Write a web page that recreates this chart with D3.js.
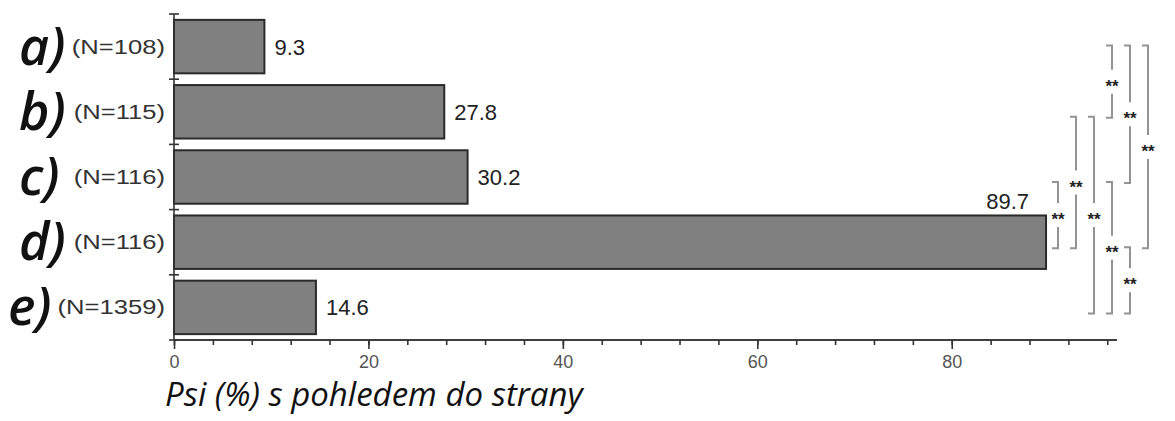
<!DOCTYPE html>
<html>
<head>
<meta charset="utf-8">
<script src="https://cdn.jsdelivr.net/npm/d3@7/dist/d3.min.js"></script>
<style>
  html, body { margin: 0; padding: 0; background: #ffffff; }
  svg { display: block; }
</style>
</head>
<body>
<svg id="chart" width="1175" height="421"></svg>
<script>
// Groups, sample sizes and share of dogs looking to the side (%)
const groupKeys = ["a", "b", "c", "d", "e"];
const groupLabels = ["a)", "b)", "c)", "d)", "e)"];
const sampleSizes = [108, 115, 116, 116, 1359];
const values = [9.3, 27.8, 30.2, 89.7, 14.6];
const majorTicks = [0, 20, 40, 60, 80];
const minorTicks = d3.range(0, 97, 4);
const axisTitle = "Psi (%) s pohledem do strany";

// Pairwise significance tests
const sigPairs = [["a", "b"], ["a", "c"], ["a", "d"], ["b", "d"], ["b", "e"], ["c", "d"], ["c", "e"], ["d", "e"]];
const sigMarks = ["**", "**", "**", "**", "**", "**", "**", "**"];

const svg = d3.select("#chart");
const sans = "'Liberation Sans', Arial, sans-serif";

const x = d3.scaleLinear().domain([0, 97]).range([174, 1117]);
const y = d3.scaleBand().domain(groupKeys).range([14, 340])
  .paddingInner(0.18).paddingOuter(0.09);
const yMid = k => y(k) + y.bandwidth() / 2;

// Bars
svg.append("g").selectAll("rect")
  .data(groupKeys)
  .join("rect")
  .attr("x", x(0))
  .attr("y", k => y(k))
  .attr("width", (k, i) => x(values[i]) - x(0))
  .attr("height", y.bandwidth())
  .attr("fill", "#808080")
  .attr("stroke", "#2a2a2a")
  .attr("stroke-width", 2);

// Value labels: beside the bar, or above its end when it runs into the brackets
svg.append("g").selectAll("text")
  .data(groupKeys)
  .join("text")
  .attr("font-family", sans)
  .attr("font-size", 22)
  .attr("fill", "#222")
  .each(function (k, i) {
    const t = d3.select(this).text(values[i].toFixed(1));
    if (values[i] > 80) {
      t.attr("x", x(values[i]) - 17).attr("y", y(k) - 6).attr("text-anchor", "end");
    } else {
      t.attr("x", x(values[i]) + 10).attr("y", yMid(k) + 8).attr("text-anchor", "start");
    }
  });

// X axis: minor ticks every 4 %, labelled major ticks every 20 %
const minorAxis = d3.axisBottom(x).tickValues(minorTicks).tickSize(5).tickFormat("");
const majorAxis = d3.axisBottom(x).tickValues(majorTicks).tickSize(9).tickPadding(6);
const gxMinor = svg.append("g").attr("transform", "translate(0,340)").call(minorAxis);
const gxMajor = svg.append("g").attr("transform", "translate(0,340)").call(majorAxis);
[gxMinor, gxMajor].forEach(g => {
  g.select(".domain").attr("stroke", "#333").attr("stroke-width", 1.6)
    .attr("d", `M${x(0)},0H${x.range()[1]}`);
  g.selectAll(".tick line").attr("stroke", "#333").attr("stroke-width", 1.6);
});
gxMajor.selectAll(".tick text")
  .attr("font-family", sans).attr("font-size", 18).attr("fill", "#555");

// Y axis line with ticks on the band boundaries
const gy = svg.append("g");
gy.append("line")
  .attr("x1", x(0)).attr("x2", x(0))
  .attr("y1", y.range()[0]).attr("y2", y.range()[1])
  .attr("stroke", "#333").attr("stroke-width", 1.6);
gy.selectAll("line.bound")
  .data(d3.range(groupKeys.length + 1))
  .join("line")
  .attr("class", "bound")
  .attr("x1", x(0) - 5).attr("x2", x(0) + 5)
  .attr("y1", i => y.range()[0] + i * y.step())
  .attr("y2", i => y.range()[0] + i * y.step())
  .attr("stroke", "#333").attr("stroke-width", 1.6);

// Sample sizes, right-aligned against the axis
const nLabels = svg.append("g").selectAll("g")
  .data(groupKeys)
  .join("g")
  .attr("transform", k => `translate(165,${yMid(k) + 7}) scale(1.28,1)`)
  .append("text")
  .attr("text-anchor", "end")
  .attr("font-family", sans)
  .attr("font-size", 20)
  .attr("fill", "#333")
  .text((k, i) => `(N=${sampleSizes[i]})`);

// Group letters, kept clear of the sample-size labels
const nStart = [];
nLabels.each(function () {
  const w = this.getComputedTextLength() * 1.28;
  nStart.push(165 - w);
});
svg.append("g").selectAll("text")
  .data(groupKeys)
  .join("text")
  .attr("y", k => yMid(k) + 18)
  .attr("font-family", "'Open Sans', sans-serif")
  .attr("font-style", "italic")
  .attr("font-weight", 600)
  .attr("font-size", 52)
  .attr("fill", "#111")
  .text((k, i) => groupLabels[i])
  .each(function (k, i) {
    const w = this.getComputedTextLength();
    d3.select(this).attr("x", Math.min(19, nStart[i] - 6 - w));
  });

// Axis title
svg.append("text")
  .attr("x", 165).attr("y", 406)
  .attr("font-family", "'Open Sans', sans-serif")
  .attr("font-style", "italic")
  .attr("font-size", 33)
  .attr("fill", "#111")
  .text(axisTitle);

// Significance brackets, stacked in lanes to the right of the bars
const laneOf = { "c-d": 0, "b-d": 1, "b-e": 2, "a-b": 3, "c-e": 3, "a-c": 4, "d-e": 4, "a-d": 5 };
const laneX = lane => 1058 + lane * 18;
const capLen = 6;
const gap = 12;
const gs = svg.append("g");
sigPairs.forEach((p, i) => {
  const key = p.join("-");
  const lx = laneX(laneOf[key]);
  const top = yMid(p[0]) + (p[0] === "a" ? -1 : 5);
  const bot = yMid(p[1]) + 6;
  const mid = (top + bot) / 2;
  const path = d3.path();
  path.moveTo(lx - capLen, top);
  path.lineTo(lx, top);
  path.lineTo(lx, mid - gap);
  path.moveTo(lx, mid + gap);
  path.lineTo(lx, bot);
  path.lineTo(lx - capLen, bot);
  gs.append("path")
    .attr("d", path.toString())
    .attr("fill", "none")
    .attr("stroke", "#939393")
    .attr("stroke-width", 2);
  gs.append("text")
    .attr("x", lx)
    .attr("y", mid + 10)
    .attr("text-anchor", "middle")
    .attr("font-family", sans)
    .attr("font-weight", "bold")
    .attr("font-size", 17)
    .attr("fill", "#222")
    .text(sigMarks[i]);
});
</script>
</body>
</html>
